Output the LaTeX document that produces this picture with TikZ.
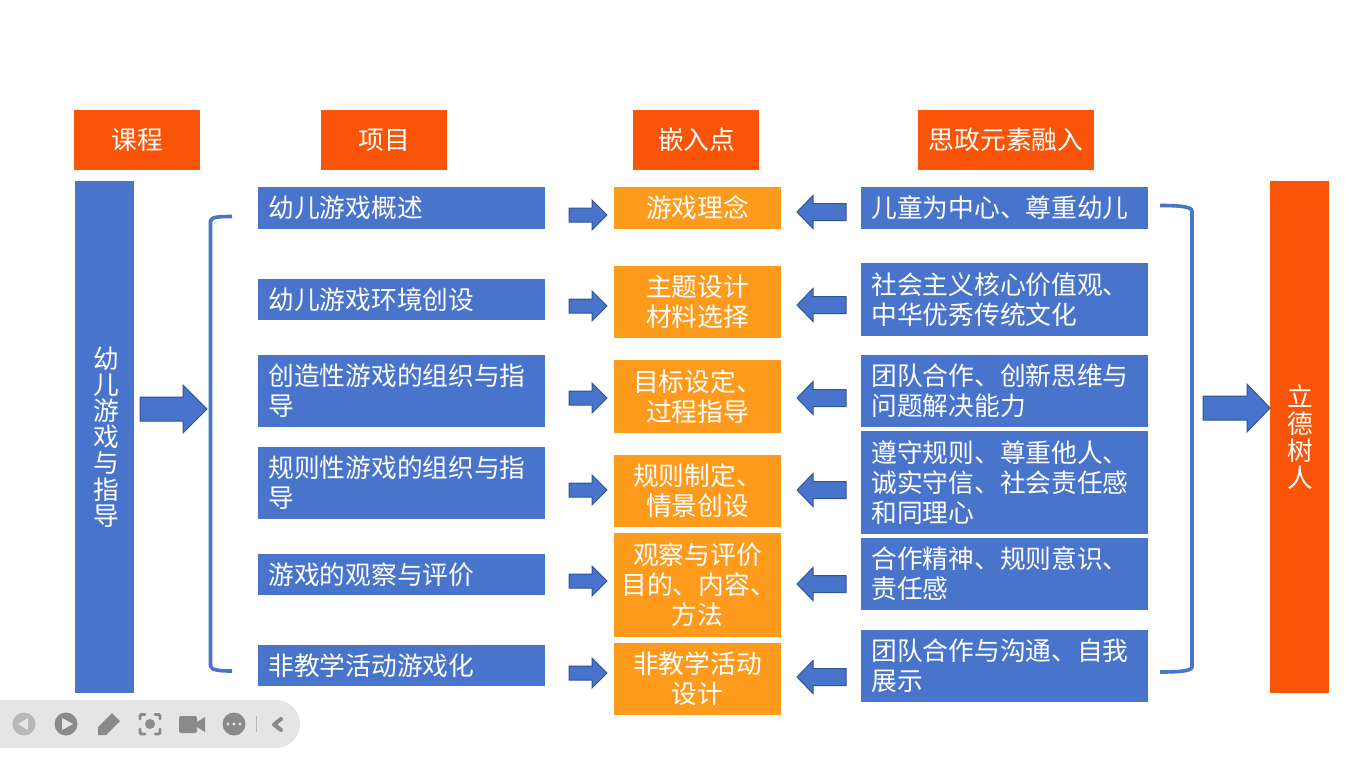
\documentclass[tikz,border=0pt]{standalone}
\usepackage{fontspec}
\setmainfont{Noto Sans CJK SC}
\normallineskiplimit=-20pt
\lineskiplimit=-20pt
\definecolor{myblue}{HTML}{4874CB}
\definecolor{myblueedge}{HTML}{2F5597}
\definecolor{myorange}{HTML}{FA5408}
\definecolor{myamber}{HTML}{FF9B1C}
\definecolor{tbbg}{HTML}{E5E5E5}
\definecolor{tbicon}{HTML}{8A8A8A}
\definecolor{tbdim}{HTML}{B8B8B8}
\tikzset{
  boxbase/.style={inner sep=0pt,outer sep=0pt,text=white,font=\fontsize{19.3pt}{22.5pt}\selectfont},
  bluebox/.style={boxbase,fill=myblue,align=left},
  amberbox/.style={boxbase,fill=myamber,align=center},
  headbox/.style={boxbase,fill=myorange,align=center},
  sidebluebox/.style={boxbase,fill=myblue,align=center,font=\fontsize{19.3pt}{19.6pt}\selectfont},
  sideorangebox/.style={boxbase,fill=myorange,align=center,font=\fontsize{19.3pt}{20.25pt}\selectfont},
  blockarrow/.style={fill=myblue,draw=myblueedge,line width=0.75pt,line join=miter},
  bracketline/.style={draw=myblue,line width=2.7pt,line join=round},
}
% name x1 y1 x2 y2 style text
\newcommand{\bx}[7]{%
  \pgfmathsetmacro{\wid}{(#4-#2)*0.75}%
  \pgfmathsetmacro{\hei}{(#5-#3)*0.75}%
  \pgfmathsetmacro{\tw}{\wid-15.5}%
  \node[#6,minimum width=\wid pt,minimum height=\hei pt,text width=\tw pt] (#1) at ({(#2+#4)/2},{(#3+#5)/2}) {#7};}
% block arrow: tail tip neck cy shafthalf headhalf
\newcommand{\rarrow}[6]{\draw[blockarrow] (#1,#4-#5) -- (#3,#4-#5) -- (#3,#4-#6) -- (#2,#4) -- (#3,#4+#6) -- (#3,#4+#5) -- (#1,#4+#5) -- cycle;}
\begin{document}
\begin{tikzpicture}[x=0.75pt,y=-0.75pt]
\useasboundingbox (0,0) rectangle (1366,768);
\fill[white] (0,0) rectangle (1366,768);
% headers
\bx{h1}{74}{110}{200}{170}{headbox}{课程}
\bx{h2}{321}{110}{447}{170}{headbox}{项目}
\bx{h3}{633}{110}{759}{170}{headbox}{\hspace*{1pt}嵌入点}
\bx{h4}{918}{110}{1094}{170}{headbox}{思政元素融入}
% sides
\bx{sideL}{75}{181}{134}{693}{sidebluebox}{\hspace*{3.5pt}幼\\\hspace*{3.5pt}儿\\\hspace*{3.5pt}游\\\hspace*{3.5pt}戏\\\hspace*{3.5pt}与\\\hspace*{3.5pt}指\\\hspace*{3.5pt}导}
\bx{sideR}{1270}{181}{1329}{693}{sideorangebox}{\hspace*{1.5pt}立\\\hspace*{1.5pt}德\\\hspace*{1.5pt}树\\\hspace*{1.5pt}人}
% column 2
\bx{a1}{258}{187}{545}{229}{bluebox}{幼儿游戏概述}
\bx{a2}{258}{279}{545}{320}{bluebox}{幼儿游戏环境创设}
\bx{a3}{258}{355}{545}{427}{bluebox}{创造性游戏的组织与指\\导}
\bx{a4}{258}{447}{545}{519}{bluebox}{规则性游戏的组织与指\\导}
\bx{a5}{258}{554}{545}{595}{bluebox}{游戏的观察与评价}
\bx{a6}{258}{645}{545}{686}{bluebox}{非教学活动游戏化}
% column 3
\bx{b1}{614}{187}{781}{229}{amberbox}{游戏理念}
\bx{b2}{614}{266}{781}{338}{amberbox}{主题设计\\材料选择}
\bx{b3}{614}{360}{781}{433}{amberbox}{目标设定、\\过程指导}
\bx{b4}{614}{455}{781}{527}{amberbox}{规则制定、\\情景创设}
\bx{b5}{614}{533}{781}{637}{amberbox}{观察与评价\\\hspace*{-2.2pt}目的、内容、\\方法}
\bx{b6}{614}{643}{781}{715}{amberbox}{非教学活动\\设计}
% column 4
\bx{c1}{861}{187}{1148}{229}{bluebox}{儿童为中心、尊重幼儿}
\bx{c2}{861}{263}{1148}{336}{bluebox}{社会主义核心价值观、\\中华优秀传统文化}
\bx{c3}{861}{355}{1148}{427}{bluebox}{团队合作、创新思维与\\问题解决能力}
\bx{c4}{861}{431}{1148}{534}{bluebox}{遵守规则、尊重他人、\\诚实守信、社会责任感\\和同理心}
\bx{c5}{861}{538}{1148}{610}{bluebox}{合作精神、规则意识、\\责任感}
\bx{c6}{861}{630}{1148}{702}{bluebox}{团队合作与沟通、自我\\展示}
% big arrows
\rarrow{140}{207}{183}{409}{12}{24}
\rarrow{1203}{1270}{1247}{408}{12}{24}
% small right arrows
\rarrow{569}{607}{592}{215}{7}{15}
\rarrow{569}{607}{592}{306}{7}{15}
\rarrow{569}{607}{592}{398}{7}{15}
\rarrow{569}{607}{592}{490}{7}{15}
\rarrow{569}{607}{592}{581}{7}{15}
\rarrow{569}{607}{592}{673}{7}{15}
% small left arrows
\rarrow{846}{797}{813}{212}{8.5}{16.5}
\rarrow{846}{797}{813}{305}{8.5}{16.5}
\rarrow{846}{797}{813}{398}{8.5}{16.5}
\rarrow{846}{797}{813}{490}{8.5}{16.5}
\rarrow{846}{797}{813}{584}{8.5}{16.5}
\rarrow{846}{797}{813}{677}{8.5}{16.5}
% brackets
\draw[bracketline] (232,216.5) .. controls (222,216.5) and (210.5,216.5) .. (210.5,221) -- (210.5,666) .. controls (210.5,670.5) and (222,671) .. (232,671);
\draw[bracketline] (1160,205.5) .. controls (1175,205.5) and (1192,206) .. (1192,211) -- (1192,667) .. controls (1192,671.5) and (1175,672) .. (1160,672);
% toolbar
\fill[tbbg,rounded corners=18pt] (-60,700) rectangle (300,748);
\fill[tbdim] (24,724) circle[radius=11.5];
\fill[tbbg] (18,724) -- (28,718) -- (28,730) -- cycle;
\fill[tbicon] (66,724) circle[radius=11.5];
\fill[tbbg] (62,718) -- (73,724) -- (62,730) -- cycle;
\fill[tbicon] (98,735) -- (98,727) -- (112,713) -- (120,721) -- (106,735) -- cycle;
\draw[tbicon,line width=2.2pt,line cap=round,rounded corners=1pt] (140,719) -- (140,714.5) -- (145,714.5) (155,714.5) -- (160,714.5) -- (160,719) (160,729) -- (160,734) -- (155,734) (145,734) -- (140,734) -- (140,729);
\fill[tbicon] (150,724) circle[radius=5];
\fill[tbicon,rounded corners=1.5pt] (179,716) rectangle (197,733);
\fill[tbicon] (197,722) -- (205,717) -- (205,732) -- (197,727) -- cycle;
\fill[tbicon] (234,724) circle[radius=11.5];
\fill[tbbg] (228,724) circle[radius=1.6] (234,724) circle[radius=1.6] (240,724) circle[radius=1.6];
\draw[tbdim,line width=0.5pt] (256.5,716) -- (256.5,732);
\draw[tbicon,line width=3pt,line cap=round,line join=round] (281,719) -- (274,724.5) -- (281,730);
\end{tikzpicture}
\end{document}
